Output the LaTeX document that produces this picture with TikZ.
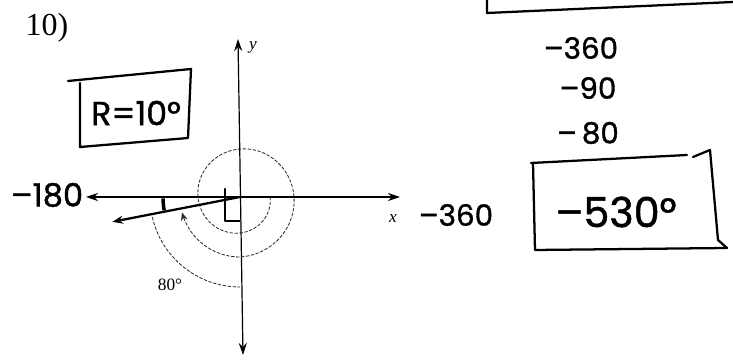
\documentclass[tikz,border=0pt]{standalone}
\usepackage{fontspec}
\setmainfont{Liberation Serif}
\newfontfamily\handfont{Poppins}[FakeBold=1.2]
\usetikzlibrary{arrows.meta, calc}

\begin{document}
\begin{tikzpicture}[x=0.75pt, y=0.75pt,
    pen/.style={line width=1.7pt, line cap=round, line join=round},
    axis/.style={line width=0.9pt, {Stealth[length=9pt, width=6pt]}-{Stealth[length=9pt, width=6pt]}},
    guide/.style={line width=0.6pt, dash pattern=on 2.5pt off 1.2pt, black!85},
    hand/.style={font=\handfont\fontsize{22}{24}\selectfont}]
    \useasboundingbox (0,0) rectangle (733,360);

    % axes
    \coordinate (O) at (240,163);
    \coordinate (xl) at (86,163);
    \coordinate (xr) at (400,163);
    \coordinate (yb) at (243,5);
    \coordinate (yt) at (238,321);
    \draw[axis] (xl) -- (xr);
    \draw[axis] (yb) -- (yt);
    \node[font=\itshape\fontsize{13}{14}\selectfont] (ylbl) at (253,313) {y};
    \node[font=\itshape\fontsize{13}{14}\selectfont] (xlbl) at (393,141) {x};
    \node[font=\fontsize{24}{26}\selectfont] (num) at (47,332) {10)};

    % rotation and terminal side
    \draw[guide, -{Stealth[length=6pt, width=5pt]}] plot[domain=0:525, samples=140, smooth]
        ({240+(30+30*min(\x,450)/450)*cos(\x)}, {163-(30+30*min(\x,450)/450)*sin(\x)});
    \coordinate (T) at ($(O)+(-169:130)$);
    \draw[pen, -{Stealth[length=8pt, width=6pt]}] (O) -- (T);
    \draw[line width=2.6pt] ($(O)+(181:77)$) arc[start angle=181, end angle=190, radius=77];
    \draw[pen] (225,171) -- (225,139) -- (240,139);
    \draw[guide] ($(O)+(-167:90)$) arc[start angle=-167, end angle=-90, radius=90];
    \node[font=\fontsize{13}{14}\selectfont] (lbl80) at (170,75) {80°};

    % handwritten notes
    \node[hand, font=\handfont\fontsize{24}{26}\selectfont] (m180) at (47,165) {–180};
    \node[hand] (m360a) at (456,145) {–360};
    \draw[pen] (68,279) -- (191,291) -- (188,222) -- (80,213) -- (80,277);
    \node[hand, font=\handfont\fontsize{25}{26}\selectfont] (rval) at (136,247) {R=10°};

    \draw[pen] (487,362) -- (487,347) -- (733,358);
    \node[hand] (m360b) at (581,312) {–360};
    \node[hand] (m90) at (588,272) {–90};
    \node[hand] (m80) at (588,227) {–\,80};
    \draw[pen] (531,197) -- (687,205);
    \draw[pen] (693,203) -- (710,210) -- (718,120) -- (727,112) -- (535,110) -- (533,197);
    \node[hand, font=\handfont\fontsize{31}{32}\selectfont] (ans) at (616,148) {–530°};
\end{tikzpicture}
\end{document}
